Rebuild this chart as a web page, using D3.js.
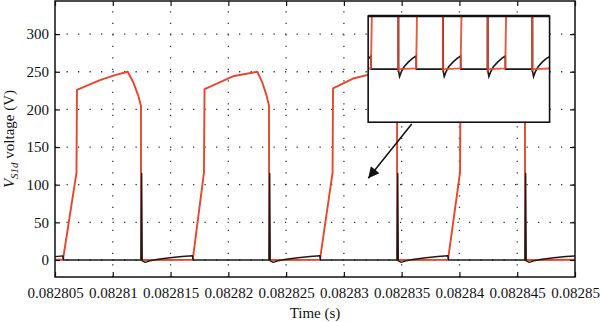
<!DOCTYPE html>
<html>
<head>
<meta charset="utf-8">
<title>VS1d voltage</title>
<style>
    body { margin: 0; background: #fff; }
    svg { display: block; font-family: "Liberation Serif", "DejaVu Serif", serif; }
</style>
</head>
<body>
<svg width="600" height="322"></svg>
<script src="https://cdn.jsdelivr.net/npm/d3@7/dist/d3.min.js"></script>
<script>
    // axis ticks
    const xTicks = [0.082805, 0.08281, 0.082815, 0.08282, 0.082825, 0.08283, 0.082835, 0.08284, 0.082845, 0.08285];
    const xTickLabels = ["0.082805", "0.08281", "0.082815", "0.08282", "0.082825", "0.08283", "0.082835", "0.08284", "0.082845", "0.08285"];
    const yTicks = [0, 50, 100, 150, 200, 250, 300];

    // red trace (s, V)
    const redTime = [
        0.08280500, 0.08280569, 0.08280686, 0.08280690, 0.08280889, 0.08281019, 0.08281129, 0.08281178, 0.08281221, 0.08281244, 0.08281245, 0.08281279,
        0.08281692, 0.08281789, 0.08281794, 0.08282040, 0.08282251, 0.08282291, 0.08282330, 0.08282352, 0.08282353, 0.08282387,
        0.08282793, 0.08282902, 0.08282906, 0.08283079, 0.08283226, 0.08283356, 0.08283399, 0.08283438, 0.08283460, 0.08283461, 0.08283494,
        0.08283901, 0.08284005, 0.08284009, 0.08284256, 0.08284464, 0.08284507, 0.08284546, 0.08284567, 0.08284568, 0.08284602, 0.08285000
    ];
    const redVolt = [
        0.3, 0.3, 116, 226, 239, 245.5, 250, 236, 218, 205, -0.5, 0,
        0.3, 116, 227, 244, 250, 237, 219, 205, -0.5, 0,
        0.3, 116, 228, 241, 246.5, 250, 237, 219, 205, -0.5, 0,
        0.3, 116, 226, 244, 250, 237, 219, 205, -0.5, 0, 0.3
    ];

    // black trace (s, V)
    const blackTime = [
        0.08280500, 0.08280569, 0.08280574,
        0.08281244, 0.08281250, 0.08281255, 0.08281279, 0.08281322, 0.08281391, 0.08281495, 0.08281599, 0.08281690, 0.08281695,
        0.08282352, 0.08282358, 0.08282363, 0.08282387, 0.08282430, 0.08282499, 0.08282603, 0.08282707, 0.08282793, 0.08282798,
        0.08283460, 0.08283466, 0.08283471, 0.08283494, 0.08283538, 0.08283607, 0.08283711, 0.08283814, 0.08283901, 0.08283906,
        0.08284567, 0.08284573, 0.08284578, 0.08284602, 0.08284645, 0.08284715, 0.08284818, 0.08284922, 0.08285000
    ];
    const blackVolt = [
        4.5, 5.5, 0,
        0, 115, -1, -3.2, -1.2, 1, 3, 4.6, 5.6, 0,
        0, 115, -1, -3.2, -1.2, 1, 3, 4.6, 5.6, 0,
        0, 115, -1, -3.2, -1.2, 1, 3, 4.6, 5.6, 0,
        0, 115, -1, -3.2, -1.2, 1, 3, 4.6, 5.3
    ];

    // inset (zoom around 0 V), placed in data coordinates of the main plot
    const insetBox = {t0: 0.0828321, t1: 0.0828478, v0: 183, v1: 324};
    const insetVoltRange = [-22.7, 22.7];
    const arrowFrom = [0.08283587, 180.5];
    const arrowTo = [0.08283211, 108.5];

    const RED = "#e9452b", BLACK = "#1a1a1a";

    var svg = d3.select("svg"),
        margin = {top: 1, right: 25, bottom: 45, left: 55},
        width = +svg.attr("width") - margin.left - margin.right,
        height = +svg.attr("height") - margin.top - margin.bottom;

    var xScale = d3.scaleLinear().domain([0.082805, 0.08285]).range([0, width]);
    var yScale = d3.scaleLinear().domain([-22.6, 344]).range([height, 0]);

    var defs = svg.append("defs");
    defs.append("clipPath").attr("id", "plotClip")
        .append("rect").attr("width", width).attr("height", height);

    var g = svg.append("g").attr("transform", "translate(" + margin.left + "," + margin.top + ")");

    // dotted grid
    var grid = g.append("g")
        .attr("stroke", "#333").attr("stroke-width", 1.3).attr("stroke-dasharray", "1.3,10.2");
    grid.selectAll(".gx").data(xTicks.slice(1, -1)).join("line")
        .attr("x1", d => xScale(d)).attr("x2", d => xScale(d))
        .attr("y1", height).attr("y2", 0);
    grid.selectAll(".gy").data(yTicks).join("line")
        .attr("y1", d => yScale(d)).attr("y2", d => yScale(d))
        .attr("x1", 0).attr("x2", width);

    var line = d3.line().x(d => xScale(d[0])).y(d => yScale(d[1]));
    var traces = g.append("g").attr("clip-path", "url(#plotClip)");
    traces.append("path").datum(d3.zip(redTime, redVolt))
        .attr("d", line).attr("fill", "none").attr("stroke", RED)
        .attr("stroke-width", 1.9).attr("stroke-linejoin", "round");
    traces.append("path").datum(d3.zip(blackTime, blackVolt))
        .attr("d", line).attr("fill", "none").attr("stroke", BLACK)
        .attr("stroke-width", 1.4).attr("stroke-linejoin", "round");

    // axes with inward ticks
    function styleAxis(sel) {
        sel.select(".domain").remove();
        sel.selectAll(".tick line").attr("stroke", "#111").attr("stroke-width", 1.2);
        sel.selectAll("text").attr("fill", "#111").style("font-size", "15px")
            .style("font-family", "'Liberation Serif', serif");
    }
    g.append("g").attr("transform", "translate(0," + height + ")")
        .call(d3.axisBottom(xScale).tickValues(xTicks).tickFormat((d, i) => xTickLabels[i])
            .tickSizeInner(-5).tickSizeOuter(0).tickPadding(10))
        .call(styleAxis);
    g.append("g")
        .call(d3.axisTop(xScale).tickValues(xTicks).tickFormat("").tickSizeInner(-5).tickSizeOuter(0))
        .call(styleAxis);
    g.append("g")
        .call(d3.axisLeft(yScale).tickValues(yTicks).tickSizeInner(-5).tickSizeOuter(0).tickPadding(6))
        .call(styleAxis);
    g.append("g").attr("transform", "translate(" + width + ",0)")
        .call(d3.axisRight(yScale).tickValues(yTicks).tickFormat("").tickSizeInner(-5).tickSizeOuter(0))
        .call(styleAxis);

    g.append("rect").attr("width", width).attr("height", height)
        .attr("fill", "none").attr("stroke", "#111").attr("stroke-width", 1.5);

    // inset
    var ix0 = xScale(insetBox.t0), ix1 = xScale(insetBox.t1),
        iyTop = yScale(insetBox.v1), iyBot = yScale(insetBox.v0);
    var insetX = d3.scaleLinear().domain(xScale.domain()).range([ix0, ix1]);
    var insetY = d3.scaleLinear().domain(insetVoltRange).range([iyBot, iyTop]);
    defs.append("clipPath").attr("id", "insetClip")
        .append("rect").attr("x", ix0).attr("y", iyTop).attr("width", ix1 - ix0).attr("height", iyBot - iyTop);

    var inset = g.append("g");
    inset.append("rect").attr("x", ix0).attr("y", iyTop).attr("width", ix1 - ix0).attr("height", iyBot - iyTop)
        .attr("fill", "#fff");
    var insetLine = d3.line().x(d => insetX(d[0])).y(d => insetY(d[1]));
    var insetTraces = inset.append("g").attr("clip-path", "url(#insetClip)");
    insetTraces.append("path").datum(d3.zip(blackTime, blackVolt))
        .attr("d", insetLine).attr("fill", "none").attr("stroke", BLACK).attr("stroke-width", 1.6);
    insetTraces.append("path").datum(d3.zip(redTime, redVolt))
        .attr("d", insetLine).attr("fill", "none").attr("stroke", RED).attr("stroke-width", 1.9)
        .attr("stroke-opacity", 0.9);
    inset.append("rect").attr("x", ix0).attr("y", iyTop).attr("width", ix1 - ix0).attr("height", iyBot - iyTop)
        .attr("fill", "none").attr("stroke", "#111").attr("stroke-width", 1.6);
    inset.append("line").attr("x1", ix0).attr("x2", ix1).attr("y1", iyTop).attr("y2", iyTop)
        .attr("stroke", "#111").attr("stroke-width", 2.6);

    // arrow
    defs.append("marker").attr("id", "arrowHead")
        .attr("viewBox", "0 0 10 10").attr("refX", 10).attr("refY", 5)
        .attr("markerWidth", 14).attr("markerHeight", 11)
        .attr("markerUnits", "userSpaceOnUse").attr("orient", "auto")
        .append("path").attr("d", "M0,0L10,5L0,10z").attr("fill", "#111");
    g.append("line")
        .attr("x1", xScale(arrowFrom[0])).attr("y1", yScale(arrowFrom[1]))
        .attr("x2", xScale(arrowTo[0])).attr("y2", yScale(arrowTo[1]))
        .attr("stroke", "#111").attr("stroke-width", 1.5).attr("marker-end", "url(#arrowHead)");

    // axis titles
    svg.append("text")
        .attr("x", margin.left + width / 2).attr("y", 318)
        .attr("text-anchor", "middle").attr("fill", "#111").style("font-size", "15px")
        .text("Time (s)");

    var yTitle = svg.append("text")
        .attr("transform", "translate(14," + (margin.top + height / 2) + ") rotate(-90)")
        .attr("text-anchor", "middle").attr("fill", "#111").style("font-size", "15px");
    yTitle.append("tspan").style("font-style", "italic").text("V");
    yTitle.append("tspan").style("font-style", "italic").style("font-size", "11px").attr("dy", 4).text("S1d");
    yTitle.append("tspan").attr("dy", -4).text(" voltage (V)");
</script>
</body>
</html>
